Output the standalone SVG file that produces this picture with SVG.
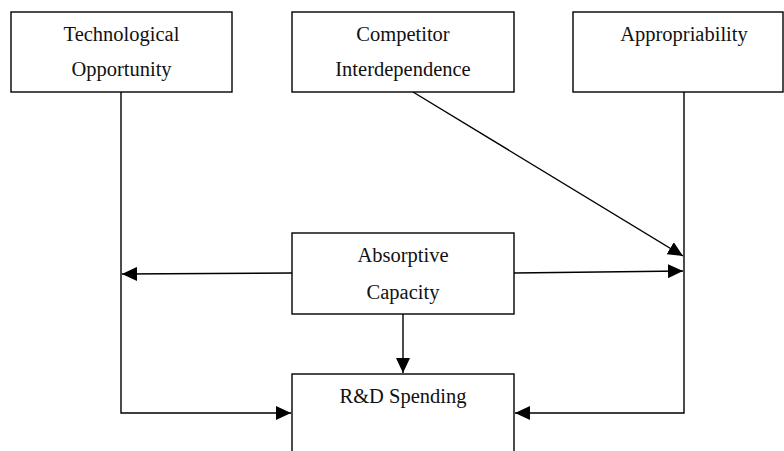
<svg xmlns="http://www.w3.org/2000/svg" width="784" height="451" viewBox="0 0 784 451">
  <style>
    .box { fill: #ffffff; stroke: #000000; stroke-width: 1.4; }
    .lbl { font-family: "Liberation Serif", "Times New Roman", serif; font-size: 20.5px; fill: #111111; text-anchor: middle; }
    .conn { fill: none; stroke: #000000; stroke-width: 1.4; }
  </style>
  <defs>
    <marker id="arrow" markerUnits="userSpaceOnUse" markerWidth="15" markerHeight="14" refX="15" refY="7" orient="auto">
      <path d="M0,0 L15,7 L0,14 z" fill="#000000"/>
    </marker>
  </defs>
  <rect width="784" height="451" fill="#ffffff"/>

  <g id="connectors">
    <polyline class="conn" points="121,92 121,413 291,413" marker-end="url(#arrow)"/>
    <polyline class="conn" points="684,92 684,413 515,413" marker-end="url(#arrow)"/>
    <line class="conn" x1="292" y1="273" x2="122" y2="274" marker-end="url(#arrow)"/>
    <line class="conn" x1="514" y1="273" x2="683" y2="271" marker-end="url(#arrow)"/>
    <line class="conn" x1="413" y1="92" x2="683" y2="256" marker-end="url(#arrow)"/>
    <line class="conn" x1="403" y1="314" x2="403" y2="373" marker-end="url(#arrow)"/>
  </g>

  <g id="tech-opportunity">
    <rect class="box" x="11" y="12" width="221" height="80"/>
    <text class="lbl" x="121.5" y="40.5">Technological</text>
    <text class="lbl" x="121.5" y="76">Opportunity</text>
  </g>

  <g id="competitor-interdependence">
    <rect class="box" x="292" y="12" width="222" height="80"/>
    <text class="lbl" x="403" y="40.5">Competitor</text>
    <text class="lbl" x="403" y="76">Interdependence</text>
  </g>

  <g id="appropriability">
    <rect class="box" x="573" y="12" width="210" height="80"/>
    <text class="lbl" x="684" y="40.5">Appropriability</text>
  </g>

  <g id="absorptive-capacity">
    <rect class="box" x="292" y="233" width="222" height="81"/>
    <text class="lbl" x="403" y="262">Absorptive</text>
    <text class="lbl" x="403" y="299">Capacity</text>
  </g>

  <g id="rd-spending">
    <rect class="box" x="292" y="374" width="222" height="90"/>
    <text class="lbl" x="403" y="403">R&amp;D Spending</text>
  </g>
</svg>
